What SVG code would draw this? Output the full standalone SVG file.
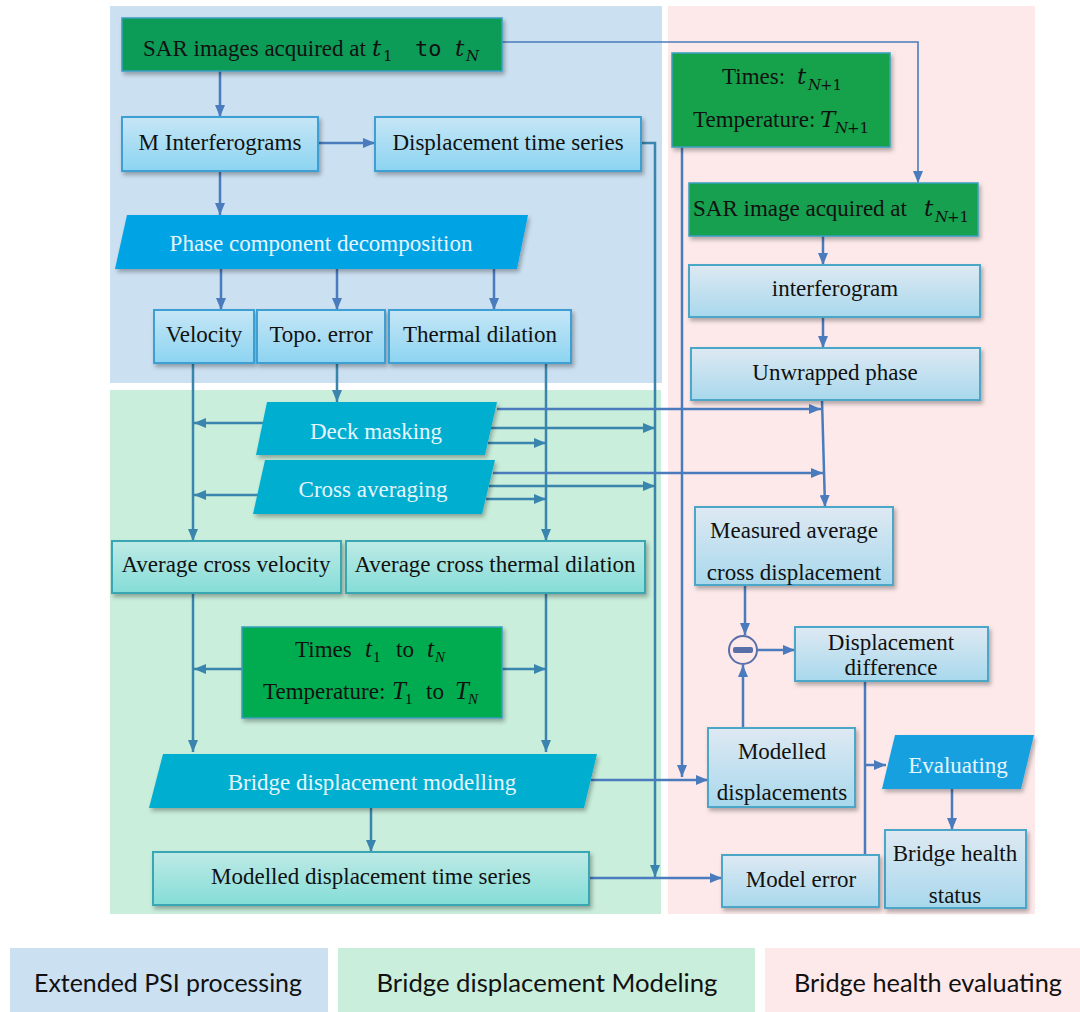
<svg xmlns="http://www.w3.org/2000/svg" width="1080" height="1012" viewBox="0 0 1080 1012" font-family="'Liberation Serif', 'Times New Roman', serif">
<defs>
<linearGradient id="gBlue" x1="0" y1="0" x2="0" y2="1"><stop offset="0" stop-color="#c6e6f6"/><stop offset="1" stop-color="#8cd4f1"/></linearGradient>
<linearGradient id="gTeal" x1="0" y1="0" x2="0" y2="1"><stop offset="0" stop-color="#bfeae6"/><stop offset="1" stop-color="#84ddd7"/></linearGradient>
<linearGradient id="gPale" x1="0" y1="0" x2="0" y2="1"><stop offset="0" stop-color="#dee9f3"/><stop offset="1" stop-color="#a8d8ec"/></linearGradient>
<filter id="sh" x="-10%" y="-10%" width="125%" height="140%"><feDropShadow dx="2" dy="3" stdDeviation="2" flood-color="#000" flood-opacity="0.3"/></filter>
<marker id="aB" viewBox="0 0 12 10" refX="12" refY="5" markerWidth="12" markerHeight="10" markerUnits="userSpaceOnUse" orient="auto"><path d="M0,0 L12,5 L0,10 z" fill="#4a7bbd"/></marker>
<marker id="aG" viewBox="0 0 12 10" refX="12" refY="5" markerWidth="12" markerHeight="10" markerUnits="userSpaceOnUse" orient="auto"><path d="M0,0 L12,5 L0,10 z" fill="#3a85ad"/></marker>
</defs>
<style>
text{font-family:'Liberation Serif','Times New Roman',serif}
.lbl{font-size:23px;fill:#111;text-anchor:middle}
.st{text-anchor:start}
.w{fill:#e6f6ff}
.mi{font-family:'DejaVu Serif',serif;font-style:italic;font-size:23px;fill:#111}
.ti{font-style:italic;font-size:25px;fill:#111}
.sub{font-size:15px}
.up{font-style:normal}
.mono{font-family:'DejaVu Sans Mono',monospace;font-size:22px;fill:#111}
.bx{stroke-width:2;filter:url(#sh)}
.blue{fill:url(#gBlue);stroke:#3e9fd3}
.teal{fill:url(#gTeal);stroke:#39a7b3}
.pale{fill:url(#gPale);stroke:#4ba6c8}
.grn{stroke:#3a9fc0;stroke-width:1.5;filter:url(#sh)}
.para{filter:url(#sh)}
.c{fill:none;stroke:#4a7bbd;stroke-width:2.5}
.cg{fill:none;stroke:#3a85ad;stroke-width:2.5}
.ab{marker-end:url(#aB)}
.ag{marker-end:url(#aG)}
.leg{font-family:Lato,'Liberation Sans',sans-serif;font-size:25px;fill:#111;text-anchor:middle}
</style>

<!-- panels -->
<rect x="110" y="6" width="552" height="377" fill="#cbe0f1"/>
<rect x="110" y="390" width="551" height="524" fill="#c9eedb"/>
<rect x="668" y="6" width="367" height="908" fill="#fde9ea"/>

<!-- connectors -->
<g id="connectors">
<path class="c ab" d="M220,71 V117"/>
<path d="M502,42 H918 V183" fill="none" stroke="#4a7bbd" stroke-width="1.6" marker-end="url(#aB)"/>
<path class="c ab" d="M318,143 H375"/>
<path class="c ab" d="M220,171 V215"/>
<path class="c ab" d="M221,269 V310"/>
<path class="c ab" d="M337,269 V310"/>
<path class="c ab" d="M494,269 V310"/>
<path class="cg ag" d="M641,143 H655 V877"/>
<path class="cg ag" d="M193,363 V541"/>
<path class="cg ag" d="M337,363 V402"/>
<path class="cg ag" d="M546,363 V541"/>
<path class="cg ag" d="M263,423 H194"/>
<path class="cg ag" d="M258,495 H194"/>
<path class="c ab" d="M497,409 H821"/>
<path class="cg ag" d="M491,428 H655"/>
<path class="cg ag" d="M488,443 H546"/>
<path class="c ab" d="M493,473 H823"/>
<path class="cg ag" d="M489,486 H655"/>
<path class="cg ag" d="M486,499 H546"/>
<path class="cg ag" d="M193,593 V752"/>
<path class="cg ag" d="M546,593 V752"/>
<path class="cg ag" d="M242,669 H194"/>
<path class="cg ag" d="M502,669 H546"/>
<path class="cg ag" d="M371,808 V852"/>
<path class="c ab" d="M591,780 H708"/>
<path class="c ab" d="M589,878 H722"/>
<path class="c ab" d="M682,147 V777"/>
<path class="c ab" d="M823,236 V265"/>
<path class="c ab" d="M823,317 V348"/>
<path class="c ab" d="M822,400 L825,507"/>
<path class="c ab" d="M745,585 V635"/>
<path class="c ab" d="M743,728 V665"/>
<path class="c ab" d="M758,650 H795"/>
<path class="c" d="M865,681 V855"/>
<path class="c ab" d="M865,765 H886"/>
<path class="c ab" d="M952,789 V830"/>
</g>

<!-- Extended PSI processing -->
<g id="sar-images">
<rect class="grn" x="122" y="18" width="380" height="53" fill="#0e9b58"/>
<text class="lbl st" x="143" y="56" font-size="22">SAR images acquired at</text>
<text class="mi" x="372" y="56">t</text><text class="mi sub up" x="383" y="61">1</text>
<text class="mono" x="415" y="56">to</text>
<text class="mi" x="455" y="56">t</text><text class="mi sub" x="466" y="61">N</text>
</g>
<g id="m-interferograms">
<rect class="bx blue" x="122" y="117" width="196" height="54"/>
<text class="lbl" x="220" y="150">M Interferograms</text>
</g>
<g id="displacement-ts">
<rect class="bx blue" x="375" y="117" width="266" height="54"/>
<text class="lbl" x="508" y="150">Displacement time series</text>
</g>
<g id="phase-decomp">
<polygon class="para" points="127,215 528,215 517,269 115,269" fill="#00a3e4"/>
<text class="lbl w" x="321" y="251">Phase component decomposition</text>
</g>
<g id="velocity">
<rect class="bx blue" x="154" y="310" width="100" height="53"/>
<text class="lbl" x="204" y="342">Velocity</text>
</g>
<g id="topo-error">
<rect class="bx blue" x="257" y="310" width="128" height="53"/>
<text class="lbl" x="321" y="342">Topo. error</text>
</g>
<g id="thermal-dilation">
<rect class="bx blue" x="389" y="310" width="182" height="53"/>
<text class="lbl" x="480" y="342">Thermal dilation</text>
</g>

<!-- Bridge displacement modeling -->
<g id="deck-masking">
<polygon class="para" points="267,402 497,402 485,455 256,455" fill="#00aed0"/>
<text class="lbl w" x="376" y="439">Deck masking</text>
</g>
<g id="cross-averaging">
<polygon class="para" points="265,460 495,460 482,514 253,514" fill="#00aed0"/>
<text class="lbl w" x="373" y="497">Cross averaging</text>
</g>
<g id="avg-cross-velocity">
<rect class="bx teal" x="112" y="541" width="229" height="52"/>
<text class="lbl" x="226" y="572">Average cross velocity</text>
</g>
<g id="avg-cross-thermal">
<rect class="bx teal" x="346" y="541" width="299" height="52"/>
<text class="lbl" x="495" y="572">Average cross thermal dilation</text>
</g>
<g id="times-t1-tn">
<rect class="grn" x="242" y="627" width="260" height="91" fill="#00ac4f"/>
<text class="lbl st" x="295" y="657">Times</text>
<text class="ti" x="365" y="657">t</text><text class="ti sub up" x="373" y="662">1</text>
<text class="lbl st" x="396" y="657">to</text>
<text class="ti" x="427" y="657">t</text><text class="ti sub" x="435" y="662">N</text>
<text class="lbl st" x="263" y="699">Temperature:</text>
<text class="ti" x="392" y="699">T</text><text class="ti sub up" x="405" y="704">1</text>
<text class="lbl st" x="426" y="699">to</text>
<text class="ti" x="455" y="699">T</text><text class="ti sub" x="468" y="704">N</text>
</g>
<g id="bridge-modelling">
<polygon class="para" points="163,754 597,754 584,808 149,808" fill="#00aed0"/>
<text class="lbl w" x="372" y="790">Bridge displacement modelling</text>
</g>
<g id="modelled-ts">
<rect class="bx teal" x="153" y="852" width="436" height="53"/>
<text class="lbl" x="371" y="884">Modelled displacement time series</text>
</g>

<!-- Bridge health evaluating -->
<g id="times-tn1">
<rect class="grn" x="672" y="53" width="218" height="94" fill="#16a24b"/>
<text class="lbl st" x="722" y="84">Times:</text>
<text class="mi" x="797" y="84">t</text><text class="mi sub" x="808" y="90">N</text><text class="mi sub up" x="820" y="90">+1</text>
<text class="lbl st" x="693" y="127">Temperature:</text>
<text class="mi" x="820" y="127">T</text><text class="mi sub" x="835" y="133">N</text><text class="mi sub up" x="847" y="133">+1</text>
</g>
<g id="sar-image-tn1">
<rect class="grn" x="689" y="183" width="289" height="53" fill="#12a04f"/>
<text class="lbl st" x="693" y="216" font-size="22">SAR image acquired at</text>
<text class="mi" x="924" y="216">t</text><text class="mi sub" x="935" y="222">N</text><text class="mi sub up" x="947" y="222">+1</text>
</g>
<g id="interferogram">
<rect class="bx pale" x="689" y="265" width="291" height="52"/>
<text class="lbl" x="835" y="296">interferogram</text>
</g>
<g id="unwrapped-phase">
<rect class="bx pale" x="691" y="348" width="289" height="52"/>
<text class="lbl" x="835" y="380">Unwrapped phase</text>
</g>
<g id="measured-avg">
<rect class="bx pale" x="695" y="507" width="198" height="78"/>
<text class="lbl" x="794" y="538">Measured average</text>
<text class="lbl" x="794" y="580">cross displacement</text>
</g>
<g id="minus">
<circle cx="743" cy="650" r="14" fill="none" stroke="#5a6ea8" stroke-width="2"/>
<rect x="733" y="647" width="20" height="6" rx="2" fill="#5a6ea8"/>
</g>
<g id="displacement-difference">
<rect class="bx pale" x="795" y="627" width="193" height="54"/>
<text class="lbl" x="891" y="650">Displacement</text>
<text class="lbl" x="891" y="675">difference</text>
</g>
<g id="modelled-displacements">
<rect class="bx pale" x="708" y="728" width="147" height="79"/>
<text class="lbl" x="782" y="759">Modelled</text>
<text class="lbl" x="782" y="800">displacements</text>
</g>
<g id="evaluating">
<polygon class="para" points="895,735 1034,735 1021,789 882,789" fill="#15a0df"/>
<text class="lbl w" x="958" y="773">Evaluating</text>
</g>
<g id="bridge-health">
<rect class="bx pale" x="885" y="830" width="141" height="78"/>
<text class="lbl" x="955" y="861">Bridge health</text>
<text class="lbl" x="955" y="903">status</text>
</g>
<g id="model-error">
<rect class="bx pale" x="722" y="855" width="157" height="52"/>
<text class="lbl" x="801" y="887">Model error</text>
</g>

<!-- legend -->
<g id="legend">
<rect x="10" y="948" width="318" height="64" fill="#cbe0f1"/>
<rect x="338" y="948" width="417" height="64" fill="#c9eedb"/>
<rect x="765" y="948" width="315" height="64" fill="#fde9ea"/>
<text class="leg" x="168" y="992" textLength="268" lengthAdjust="spacingAndGlyphs">Extended PSI processing</text>
<text class="leg" x="547" y="992" textLength="341" lengthAdjust="spacingAndGlyphs">Bridge displacement Modeling</text>
<text class="leg" x="928" y="992" textLength="268" lengthAdjust="spacingAndGlyphs">Bridge health evaluating</text>
</g>
</svg>
